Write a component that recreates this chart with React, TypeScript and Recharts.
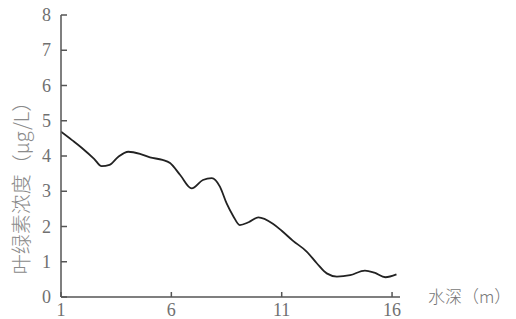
import { LineChart, Line, XAxis, YAxis, Label } from 'recharts'

// water depth (m) and chlorophyll concentration (μg/L)
const depth = [
  1, 1.5, 2.0, 2.5, 2.84, 3.2, 3.6, 4.05, 4.58, 5.03, 5.6, 5.94, 6.4, 6.92,
  7.43, 7.83, 8.2, 8.5, 8.8, 9.1, 9.5, 9.94, 10.6, 11.0, 11.5, 12.13, 12.6,
  13.04, 13.5, 14.1, 14.77, 15.2, 15.7, 16.2,
]
const chlorophyll = [
  4.69, 4.45, 4.2, 3.92, 3.71, 3.75, 3.98, 4.12, 4.06, 3.96, 3.89, 3.8, 3.46,
  3.08, 3.32, 3.37, 3.13, 2.66, 2.3, 2.04, 2.12, 2.26, 2.08, 1.88, 1.6, 1.29,
  0.95, 0.67, 0.58, 0.62, 0.75, 0.69, 0.56, 0.64,
]
const xTicks = [1, 6, 11, 16]
const yTicks = [0, 1, 2, 3, 4, 5, 6, 7, 8]

const data = depth.map((d, i) => ({ depth: d, value: chlorophyll[i] }))

const SERIF = 'Liberation Serif, Times New Roman, DejaVu Serif, serif'
const CJK = 'Noto Sans CJK SC, sans-serif'

function SerifTick(props: any) {
  const { x, y, payload, textAnchor, dy } = props
  return (
    <text x={x} y={y} dy={dy} textAnchor={textAnchor} style={{ fontFamily: SERIF, fontSize: 18 }} fill="#707070">
      {payload.value}
    </text>
  )
}

function YTitle() {
  return (
    <text
      x={20}
      y={183}
      transform="rotate(-90, 20, 183)"
      textAnchor="middle"
      dominantBaseline="central"
      style={{ fontFamily: CJK, fontSize: 20, fontWeight: 300 }}
      fill="#8a8a8a"
    >
      叶绿素浓度（μg/L）
    </text>
  )
}

export default function App() {
  return (
    <div style={{ position: 'absolute', left: 0, top: 0, width: 516, height: 319, background: '#fff' }}>
      <LineChart width={516} height={319} data={data} margin={{ top: 15, right: 116, bottom: 0, left: 0 }}>
        <XAxis
          dataKey="depth"
          type="number"
          domain={[1, 16.36]}
          ticks={xTicks}
          allowDataOverflow
          stroke="#555"
          strokeWidth={1.5}
          tickSize={-5}
          tickMargin={10}
          tick={<SerifTick dy={14} />}
          height={22}
        />
        <YAxis
          domain={[0, 8]}
          ticks={yTicks}
          stroke="#555"
          strokeWidth={1.5}
          tickSize={-6}
          tickMargin={16}
          tick={<SerifTick dy={6} />}
          width={61}
        >
          <Label content={<YTitle />} />
        </YAxis>
        <Line
          type="monotone"
          dataKey="value"
          stroke="#222"
          strokeWidth={1.8}
          dot={false}
          isAnimationActive={false}
        />
      </LineChart>
      <div
        style={{
          position: 'absolute',
          left: 428,
          top: 286,
          fontFamily: CJK,
          fontSize: 17,
          fontWeight: 300,
          color: '#777',
          lineHeight: '20px',
          whiteSpace: 'nowrap',
        }}
      >
        水深（m）
      </div>
    </div>
  )
}
